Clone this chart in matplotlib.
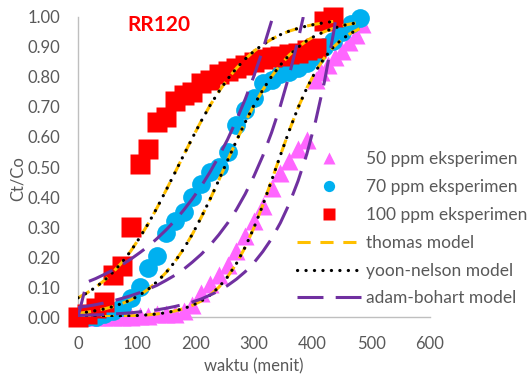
import matplotlib
matplotlib.use("Agg")
import matplotlib.pyplot as plt
from matplotlib.ticker import FormatStrFormatter

plt.rcParams['font.family'] = ['Lato', 'DejaVu Sans']

t50 = [0, 15, 30, 45, 60, 75, 90, 105, 120, 135, 150, 165, 180, 195, 210, 225, 240,
       255, 270, 285, 300, 315, 330, 345, 360, 375, 390, 405, 415, 426, 438, 450, 462,
       474, 484]
c50 = [0.00, 0.00, 0.00, 0.00, 0.00, 0.00, 0.00, 0.005, 0.005, 0.01, 0.01, 0.01, 0.02,
       0.04, 0.08, 0.11, 0.14, 0.175, 0.22, 0.27, 0.32, 0.37, 0.43, 0.48, 0.52, 0.56,
       0.59, 0.79, 0.815, 0.84, 0.865, 0.885, 0.915, 0.94, 0.975]

t70 = [0, 15, 30, 45, 60, 75, 90, 105, 120, 135, 150, 165, 180, 195, 210, 225, 240,
       255, 270, 285, 300, 315, 330, 345, 360, 375, 390, 405, 420, 435, 450, 465, 480]
c70 = [0.00, 0.00, 0.00, 0.01, 0.02, 0.035, 0.065, 0.10, 0.165, 0.205, 0.28, 0.32,
       0.35, 0.40, 0.445, 0.485, 0.50, 0.55, 0.64, 0.69, 0.73, 0.78, 0.79, 0.81,
       0.815, 0.83, 0.845, 0.87, 0.90, 0.92, 0.95, 0.975, 0.995]

t100 = [0, 15, 30, 45, 60, 75, 90, 105, 120, 135, 150, 165, 180, 195, 210, 225, 240,
        255, 270, 285, 300, 315, 330, 345, 360, 375, 390, 405, 420, 435]
c100 = [0.00, 0.01, 0.03, 0.05, 0.14, 0.17, 0.30, 0.51, 0.56, 0.65, 0.665, 0.72, 0.74,
        0.75, 0.78, 0.79, 0.81, 0.82, 0.83, 0.84, 0.85, 0.86, 0.865, 0.87, 0.875, 0.88,
        0.89, 0.895, 0.985, 1.00]

# thomas / yoon-nelson model curves (same values)
tm50 = [0, 15, 30, 45, 60, 75, 90, 105, 120, 135, 150, 165, 180, 195, 210, 225, 240,
        255, 270, 285, 300, 315, 330, 345, 360, 375, 390, 405, 420, 435, 450, 465, 480]
m50 = [0.0005, 0.0007, 0.001, 0.0014, 0.0019, 0.0027, 0.0038, 0.0053, 0.0074, 0.0103,
       0.0144, 0.020, 0.028, 0.039, 0.053, 0.073, 0.099, 0.134, 0.178, 0.233, 0.298,
       0.373, 0.455, 0.539, 0.621, 0.697, 0.763, 0.819, 0.864, 0.899, 0.926, 0.946, 0.961]

tm70 = [0, 15, 30, 45, 60, 75, 90, 105, 120, 135, 150, 165, 180, 195, 210, 225, 240,
        255, 270, 285, 300, 315, 330, 345, 360, 375, 390, 405, 420, 435, 450, 465, 480]
m70 = [0.012, 0.016, 0.021, 0.027, 0.035, 0.045, 0.057, 0.073, 0.093, 0.118, 0.148,
       0.184, 0.227, 0.276, 0.332, 0.392, 0.456, 0.522, 0.587, 0.649, 0.706, 0.757,
       0.802, 0.840, 0.873, 0.899, 0.921, 0.938, 0.951, 0.962, 0.971, 0.977, 0.982]

tm100 = [0, 15, 30, 45, 60, 75, 90, 105, 120, 135, 150, 165, 180, 195, 210, 225, 240,
         255, 270, 285, 300, 315, 330, 345, 360, 375, 390, 405, 420, 435]
m100 = [0.064, 0.080, 0.099, 0.122, 0.150, 0.182, 0.220, 0.264, 0.312, 0.365, 0.422,
        0.480, 0.539, 0.597, 0.653, 0.705, 0.751, 0.793, 0.829, 0.860, 0.886, 0.908,
        0.926, 0.941, 0.953, 0.962, 0.970, 0.976, 0.981, 0.985]

# adam-bohart model curves
ta50 = [0, 15, 30, 45, 60, 75, 90, 105, 120, 135, 150, 165, 180, 195, 210, 225, 240,
        255, 270, 285, 300, 315, 330, 345, 360, 375, 390, 405, 420, 435, 440]
a50 = [0.005, 0.006, 0.007, 0.008, 0.010, 0.012, 0.014, 0.017, 0.020, 0.024, 0.029,
       0.035, 0.042, 0.050, 0.060, 0.073, 0.087, 0.105, 0.126, 0.151, 0.181, 0.218,
       0.261, 0.314, 0.377, 0.453, 0.543, 0.653, 0.784, 0.941, 1.00]

ta70 = [0, 15, 30, 45, 60, 75, 90, 105, 120, 135, 150, 165, 180, 195, 210, 225, 240,
        255, 270, 285, 300, 315, 330, 345, 360, 375, 384]
a70 = [0.032, 0.036, 0.041, 0.047, 0.054, 0.062, 0.071, 0.081, 0.093, 0.106, 0.122,
       0.139, 0.159, 0.183, 0.209, 0.239, 0.274, 0.313, 0.358, 0.410, 0.470, 0.537,
       0.615, 0.704, 0.806, 0.922, 1.00]

ta100 = [0, 15, 30, 45, 60, 75, 90, 105, 120, 135, 150, 165, 180, 195, 210, 225, 240,
         255, 270, 285, 300, 315, 330]
a100 = [0.00, 0.116, 0.128, 0.142, 0.157, 0.174, 0.193, 0.214, 0.236, 0.262, 0.290,
        0.321, 0.356, 0.394, 0.436, 0.483, 0.535, 0.592, 0.656, 0.726, 0.804, 0.891, 0.987]

xticks = [0, 100, 200, 300, 400, 500, 600]
yticks = [0.0, 0.1, 0.2, 0.3, 0.4, 0.5, 0.6, 0.7, 0.8, 0.9, 1.0]

grey = '#595959'
orange = '#FFC000'
purple = '#7030A0'

fig = plt.figure(figsize=(5.28, 3.76), dpi=100)
ax = fig.add_axes([0.1477, 0.1569, 0.6667, 0.7979])

ax.plot(t50, c50, ls='none', marker='^', ms=13.5, color='#FF66FF', mec='none',
        clip_on=False, label='50 ppm eksperimen', zorder=3)
ax.plot(t70, c70, ls='none', marker='o', ms=13.5, color='#00B0F0', mec='none',
        clip_on=False, label='70 ppm eksperimen', zorder=3)
ax.plot(t100, c100, ls='none', marker='s', ms=14, color='#FF0000', mec='none',
        clip_on=False, label='100 ppm eksperimen', zorder=3)

dash_o = (0, (4.3, 3.2))
dot_k = (0, (0.05, 2.6))
dash_p = (0, (8.5, 4))
first = True
for tt, mm in [(tm50, m50), (tm70, m70), (tm100, m100)]:
    ax.plot(tt, mm, color=orange, lw=2.2, ls=dash_o, zorder=4,
            label='thomas model' if first else None)
    first = False
first = True
for tt, mm in [(tm50, m50), (tm70, m70), (tm100, m100)]:
    ax.plot(tt, mm, color='black', lw=2.3, ls=dot_k, dash_capstyle='round', zorder=5,
            label='yoon-nelson model' if first else None)
    first = False
first = True
for tt, aa in [(ta50, a50), (ta70, a70), (ta100, a100)]:
    ax.plot(tt, aa, color=purple, lw=2.2, ls=dash_p, zorder=6,
            label='adam-bohart model' if first else None)
    first = False

ax.set_xlim(0, 600)
ax.set_ylim(0, 1)
ax.set_xticks(xticks)
ax.set_yticks(yticks)
ax.yaxis.set_major_formatter(FormatStrFormatter('%.2f'))
ax.tick_params(length=0, labelsize=12, labelcolor=grey)
ax.tick_params(axis='y', pad=13)
ax.tick_params(axis='x', pad=14)
for s in ['top', 'right']:
    ax.spines[s].set_visible(False)
for s in ['left', 'bottom']:
    ax.spines[s].set_color('#BFBFBF')
    ax.spines[s].set_linewidth(1)

ax.set_xlabel('waktu (menit)', fontsize=12, color=grey)
ax.set_ylabel('Ct/Co', fontsize=12, color=grey)
ax.xaxis.set_label_coords(0.5, -0.163)
ax.xaxis.label.set_va('center')
ax.yaxis.set_label_coords(-0.17, 0.463)
ax.yaxis.label.set_va('center')

ax.text(85, 0.973, 'RR120', color='#FF0000', fontsize=15, fontweight='bold',
        ha='left', va='center')

leg = fig.legend(loc='center left', bbox_to_anchor=(0.5625, 0.391), frameon=False,
                 fontsize=12.5, handlelength=3.7, handletextpad=0.3, labelspacing=0.68,
                 borderpad=0, borderaxespad=0, markerscale=0.6)
for txt in leg.get_texts():
    txt.set_color(grey)

fig.savefig('out.png', dpi=100)
